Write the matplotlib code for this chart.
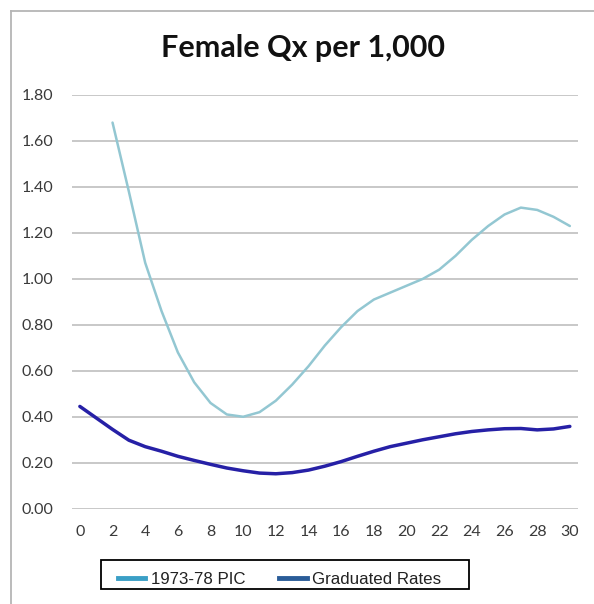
import matplotlib
matplotlib.use("Agg")
import matplotlib.pyplot as plt
from matplotlib.lines import Line2D
from matplotlib.patches import Rectangle

# Female mortality rates (qx per 1,000) by age
ages = list(range(0, 31))
pic_ages = list(range(2, 31))
pic_1973_78 = [1.68, 1.38, 1.07, 0.86, 0.68, 0.55, 0.46, 0.41, 0.40, 0.42,
               0.47, 0.54, 0.62, 0.71, 0.79, 0.86, 0.91, 0.94, 0.97, 1.00,
               1.04, 1.10, 1.17, 1.23, 1.28, 1.31, 1.30, 1.27, 1.23]
graduated = [0.445, 0.395, 0.345, 0.298, 0.27, 0.25, 0.228, 0.21, 0.193, 0.177,
             0.165, 0.155, 0.152, 0.157, 0.168, 0.185, 0.205, 0.228, 0.25, 0.27,
             0.285, 0.30, 0.313, 0.326, 0.336, 0.343, 0.348, 0.349, 0.343, 0.347,
             0.358]
series_names = ["1973-78 PIC", "Graduated Rates"]
title = "Female Qx per 1,000"
x_ticks = list(range(0, 31, 2))
y_ticks = [0.0, 0.2, 0.4, 0.6, 0.8, 1.0, 1.2, 1.4, 1.6, 1.8]

W, H = 594, 604
fig = plt.figure(figsize=(W / 100, H / 100), dpi=100)
fig.patch.set_facecolor("white")

ax = fig.add_axes([71.7 / W, 1 - 508.7 / H, (578 - 71.7) / W, (508.7 - 95) / H])
ax.set_facecolor("white")

pic_color = "#93c7d2"
grad_color = "#2620a6"
ax.plot(pic_ages, pic_1973_78, color=pic_color, lw=1.8, solid_capstyle="round",
        solid_joinstyle="round", zorder=3)
ax.plot(ages, graduated, color=grad_color, lw=2.5, solid_capstyle="round",
        solid_joinstyle="round", zorder=4)

ax.set_xlim(-0.5, 30.5)
ax.set_ylim(0, 1.8)
ax.set_xticks(x_ticks)
ax.set_xticklabels([str(v) for v in x_ticks])
ax.set_yticks(y_ticks)
ax.set_yticklabels([f"{v:.2f}" for v in y_ticks])
ax.grid(axis="y", color="#c4c4c4", lw=1.3)
ax.set_axisbelow(True)
for s in ax.spines.values():
    s.set_visible(False)
ax.tick_params(axis="both", length=0, labelcolor="#3a3a3a")
ax.tick_params(axis="y", pad=13)
ax.tick_params(axis="x", pad=12)
for lbl in ax.get_xticklabels() + ax.get_yticklabels():
    lbl.set_fontfamily("Lato")
    lbl.set_fontsize(11.5)

fig.text(302.8 / W, 1 - 48 / H, title, ha="center", va="center",
         fontfamily="Lato", fontweight="bold", fontsize=22, color="#111111")

# Outer chart frame (top and left edges)
frame_kw = dict(color="#b5b5b5", lw=1.3, transform=fig.transFigure)
fig.add_artist(Line2D([10.5 / W, 1.0], [1 - 10.5 / H, 1 - 10.5 / H], **frame_kw))
fig.add_artist(Line2D([10.5 / W, 10.5 / W], [0.0, 1 - 10.5 / H], **frame_kw))

# Legend box drawn separately so the entries can sit freely inside it
fig.add_artist(Rectangle((101 / W, 1 - 589 / H), (469 - 101) / W, (589 - 560) / H,
                         transform=fig.transFigure, facecolor="white",
                         edgecolor="black", lw=1.3, zorder=5))
handles = [Line2D([], [], color="#3a9fc6", lw=3.5),
           Line2D([], [], color="#2a5c98", lw=3.5)]
leg = fig.legend(handles, series_names, loc="center left",
                 bbox_to_anchor=(118 / W, 1 - 579 / H),
                 ncol=2, frameon=False, borderaxespad=0, borderpad=0,
                 handlelength=1.6, handletextpad=0.35, columnspacing=2.0,
                 prop={"family": "Liberation Sans", "size": 12.2})
leg.set_zorder(6)
for t in leg.get_texts():
    t.set_color("#222222")

fig.savefig("out.png", dpi=100, facecolor="white")
